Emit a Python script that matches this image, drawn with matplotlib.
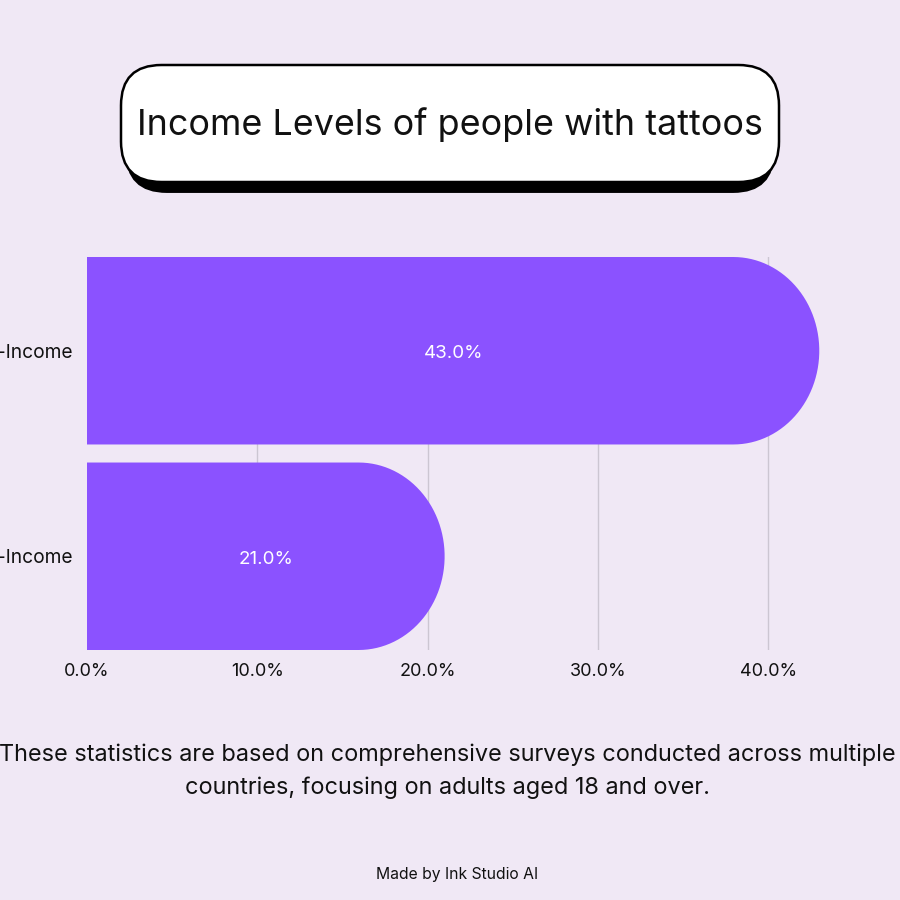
import matplotlib
matplotlib.use("Agg")
import matplotlib.pyplot as plt
from matplotlib.path import Path
from matplotlib.patches import PathPatch, FancyBboxPatch
import numpy as np

categories = ["High-Income", "Low-Income"]
values = [43.0, 21.0]
xticks = [0, 10, 20, 30, 40]
xtick_labels = ["0.0%", "10.0%", "20.0%", "30.0%", "40.0%"]
title = "Income Levels of people with tattoos"
note = ("These statistics are based on comprehensive surveys conducted across multiple\n"
        "countries, focusing on adults aged 18 and over.")
credit = "Made by Ink Studio AI"

BG = "#F0E8F5"
BAR = "#8B52FF"
FONT = ["Inter", "DejaVu Sans"]
plt.rcParams["font.family"] = FONT

fig = plt.figure(figsize=(9, 9), dpi=100)
fig.patch.set_facecolor(BG)

# Title box
L, R, T, B = 121 / 900, 779 / 900, 1 - 65 / 900, 1 - 182 / 900
rad = 0.045
shadow = FancyBboxPatch((L + 0.006, B - 0.011), (R - L) - 0.012, (T - B),
                        boxstyle=f"round,pad=0,rounding_size={rad}",
                        transform=fig.transFigure, facecolor="black",
                        edgecolor="black", lw=1.5, zorder=1)
box = FancyBboxPatch((L, B), R - L, T - B,
                     boxstyle=f"round,pad=0,rounding_size={rad}",
                     transform=fig.transFigure, facecolor="white",
                     edgecolor="black", lw=1.8, zorder=2)
fig.patches.extend([shadow, box])
fig.text(0.5, 1 - 125 / 900, title, ha="center", va="center", fontsize=25.8,
         color="#111111", zorder=3)

ax = fig.add_axes([87 / 900, 250 / 900, 800 / 900, 393 / 900])
ax.set_facecolor(BG)
bh = 187 / 205
ax.set_xlim(0, 800 / 17.03)
ax.set_ylim(len(categories) - 0.5 - (0.5 - bh / 2), -0.5 + (0.5 - bh / 2))

rx = 5.05
for i, v in enumerate(values):
    yc = i
    xs = v - rx
    th = np.linspace(np.pi / 2, -np.pi / 2, 60)
    arc_pts = [(xs + rx * np.cos(t), yc + (bh / 2) * np.sin(t)) for t in th]
    verts = [(0, yc + bh / 2), (xs, yc + bh / 2)] + arc_pts + [(0, yc - bh / 2), (0, yc + bh / 2)]
    codes = [Path.MOVETO] + [Path.LINETO] * (len(verts) - 2) + [Path.CLOSEPOLY]
    ax.add_patch(PathPatch(Path(verts, codes), facecolor=BAR, edgecolor="none", zorder=2))
    ax.text(v / 2, i + 0.015, f"{v:.1f}%", ha="center", va="center", color="white",
            fontsize=13.5, zorder=3)

for x in xticks[1:]:
    ax.axvline(x, color="#CCC6D2", lw=1, zorder=1)

ax.set_xticks(xticks)
ax.set_xticklabels(xtick_labels, fontsize=13, color="#111111")
ax.set_yticks(range(len(categories)))
ax.set_yticklabels(categories, fontsize=13.8, color="#111111")
ax.tick_params(axis="both", length=0)
ax.tick_params(axis="x", pad=9)
ax.tick_params(axis="y", pad=10)
for s in ax.spines.values():
    s.set_visible(False)

fig.text(0.497, 1 - 771 / 900, note, ha="center", va="center", fontsize=16.9,
         color="#111111", linespacing=1.6)
fig.text(457.5 / 900, 1 - 874 / 900, credit, ha="center", va="center", fontsize=11.3,
         color="#111111")

fig.savefig("out.png", dpi=100, facecolor=BG)
